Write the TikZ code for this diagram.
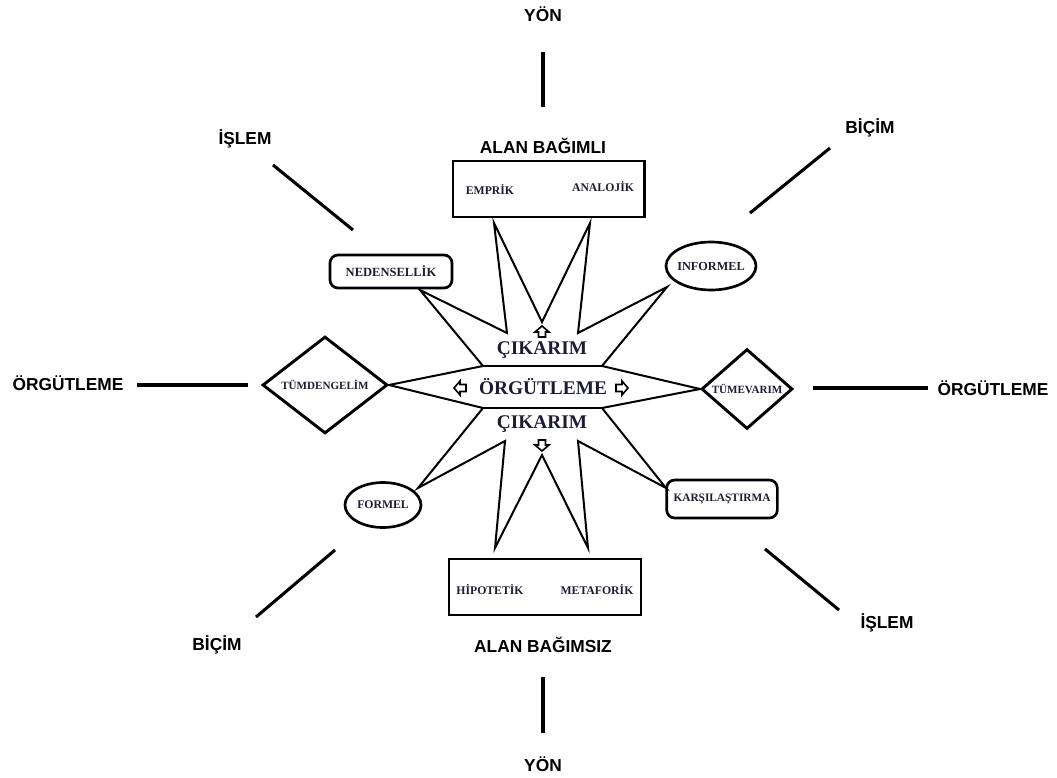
\documentclass[tikz,border=0pt]{standalone}
\usepackage{fontspec}
\setmainfont{Liberation Serif}
\setsansfont{Liberation Sans}
\usepackage{tikz}
\usetikzlibrary{shapes.geometric}
\definecolor{koyu}{RGB}{28,28,52}

\begin{document}
\begin{tikzpicture}[x=0.75pt,y=-0.75pt,
  dis/.style={font=\sffamily\bfseries\fontsize{13}{15}\selectfont},
  orta/.style={font=\bfseries\fontsize{14.5}{16}\selectfont,text=koyu,inner sep=0pt},
  kucuk/.style={font=\bfseries\fontsize{8.8}{10}\selectfont,text=koyu},
  kalin/.style={line width=2.3pt},
  yildiz/.style={line width=1.5pt,line join=miter},
  ok/.style={line width=1.2pt},
  kutu/.style={draw,rectangle,line width=2.2pt,minimum width=#1,minimum height=42pt},
  yuvarlak/.style={draw,rectangle,rounded corners=6pt,line width=2pt,kucuk,inner sep=0pt},
  elips/.style={draw,ellipse,line width=2pt,kucuk,inner sep=0pt},
  baklava/.style={draw,diamond,line width=2.2pt,inner sep=0pt,font=\bfseries\fontsize{8.3}{10}\selectfont,text=koyu}]
\useasboundingbox (0,0) rectangle (1057,778);

% dis etiketler ve cizgiler
\foreach \ad/\lx/\ly/\metin/\ax/\ay/\bx/\by in %
{yonust/543/14/YÖN/543/52/543/107,
 islemust/245/139/İŞLEM/273/165/353/230,
 bicimust/870/128/BİÇİM/830/148/750/213,
 orgsol/68/383/ÖRGÜTLEME/137/385/248/385,
 orgsag/993/388/ÖRGÜTLEME/813/388/928/388,
 bicimalt/217/645/BİÇİM/335/550/256/617,
 islemalt/887/623/İŞLEM/765/549/839/610,
 yonalt/543/764/YÖN/543/677/543/733} {
   \node[dis] (\ad) at (\lx,\ly) {\metin};
   \coordinate (\ad a) at (\ax,\ay);
   \coordinate (\ad b) at (\bx,\by);
   \draw[kalin] (\ad a) -- (\ad b);
}
\node[dis] (alanbag) at (543,146) {ALAN BAĞIMLI};
\node[dis] (alanbagsiz) at (543,645) {ALAN BAĞIMSIZ};

% kutular
\node[kutu=143.3pt] (ustkutu) at (548.5,189) {};
\node[kucuk] (emprik) at (490,189) {EMPRİK};
\node[kucuk] (analojik) at (603,187) {ANALOJİK};
\node[kutu=144pt] (altkutu) at (545,587) {};
\node[kucuk] (hipotetik) at (490,590) {HİPOTETİK};
\node[kucuk] (metaforik) at (597,590) {METAFORİK};

\node[yuvarlak,minimum width=91.5pt,minimum height=24.75pt,font=\bfseries\fontsize{9.4}{10}\selectfont] (neden) at (391,271.5) {NEDENSELLİK};
\node[yuvarlak,minimum width=83pt,minimum height=28.5pt,font=\bfseries\fontsize{8.5}{10}\selectfont] (karsi) at (722,499) {KARŞILAŞTIRMA};
\node[elips,inner xsep=-2.5pt,minimum width=67.5pt,minimum height=36pt,font=\bfseries\fontsize{9.2}{10}\selectfont] (informel) at (711,266) {INFORMEL};
\node[elips,minimum width=57pt,minimum height=33.75pt] (formel) at (383,505) {FORMEL};
\node[baklava,minimum width=93.75pt,minimum height=39.75pt] (tumden) at (325,385) {TÜMDENGELİM};
\node[baklava,minimum width=68.25pt,minimum height=51.75pt] (tumev) at (747,389) {TÜMEVARIM};

% yildiz
\coordinate (TL) at (483,366); \coordinate (TR) at (602,366);
\coordinate (BL) at (483,408); \coordinate (BR) at (602,408);
\coordinate (N) at (420,290); \coordinate (I) at (667,287);
\coordinate (F) at (418,488); \coordinate (K) at (666,488);
\coordinate (A1) at (507,333); \coordinate (A2) at (542,322); \coordinate (A3) at (578,333);
\coordinate (B1) at (505,441); \coordinate (B2) at (542,455); \coordinate (B3) at (578,441);
\coordinate (P1) at (494,223); \coordinate (P2) at (590,223);
\coordinate (Q1) at (495,548); \coordinate (Q2) at (588,548);
\draw[yildiz] (tumden.east) -- (TL) -- (N) -- (A1) -- (P1) -- (A2) -- (P2) -- (A3) -- (I)
   -- (TR) -- (tumev.west) -- (BR) -- (K) -- (B3) -- (Q2) -- (B2) -- (Q1) -- (B1)
   -- (F) -- (BL) -- cycle;
\draw[yildiz] (TL) -- (TR) (BL) -- (BR);

\node[orta] (cikust) at (542,350) {ÇIKARIM};
\node[orta] (orgutleme) at (543,387) {ÖRGÜTLEME};
\node[orta] (cikalt) at (542,424) {ÇIKARIM};

% kucuk oklar
\draw[ok] (542,326) -- ++(7,6) -- ++(-3.5,0) -- ++(0,5) -- ++(-7,0) -- ++(0,-5) -- ++(-3.5,0) -- cycle;
\draw[ok] (542,451) -- ++(7,-6) -- ++(-3.5,0) -- ++(0,-5) -- ++(-7,0) -- ++(0,5) -- ++(-3.5,0) -- cycle;
\draw[ok] (454,388) -- ++(6,-7) -- ++(0,3.5) -- ++(6,0) -- ++(0,7) -- ++(-6,0) -- ++(0,3.5) -- cycle;
\draw[ok] (628,388) -- ++(-6,-7) -- ++(0,3.5) -- ++(-6,0) -- ++(0,7) -- ++(6,0) -- ++(0,3.5) -- cycle;
\end{tikzpicture}
\end{document}
